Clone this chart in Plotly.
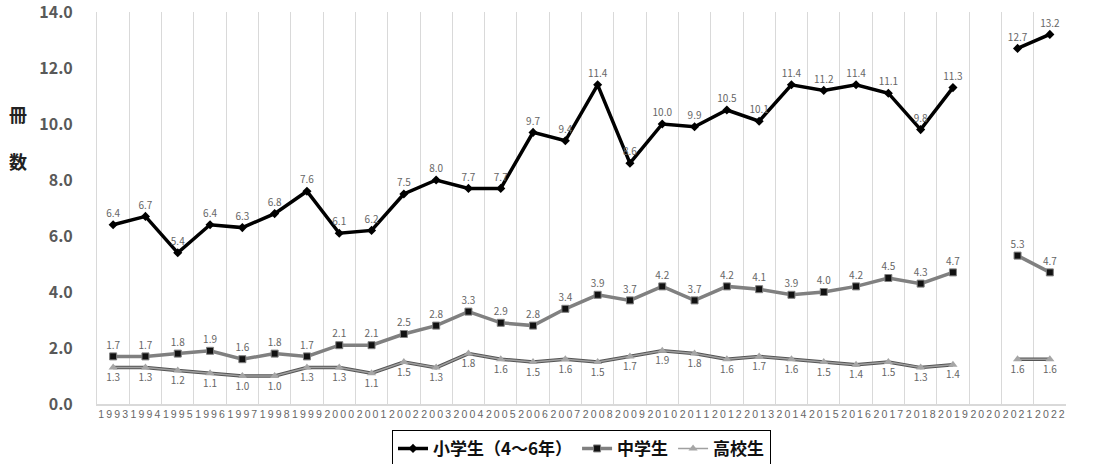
import plotly.graph_objects as go

years = [str(y) for y in range(1993, 2023)]
elem = [6.4, 6.7, 5.4, 6.4, 6.3, 6.8, 7.6, 6.1, 6.2, 7.5, 8.0, 7.7, 7.7, 9.7, 9.4,
        11.4, 8.6, 10.0, 9.9, 10.5, 10.1, 11.4, 11.2, 11.4, 11.1, 9.8, 11.3, None, 12.7, 13.2]
junior = [1.7, 1.7, 1.8, 1.9, 1.6, 1.8, 1.7, 2.1, 2.1, 2.5, 2.8, 3.3, 2.9, 2.8, 3.4,
          3.9, 3.7, 4.2, 3.7, 4.2, 4.1, 3.9, 4.0, 4.2, 4.5, 4.3, 4.7, None, 5.3, 4.7]
high = [1.3, 1.3, 1.2, 1.1, 1.0, 1.0, 1.3, 1.3, 1.1, 1.5, 1.3, 1.8, 1.6, 1.5, 1.6,
        1.5, 1.7, 1.9, 1.8, 1.6, 1.7, 1.6, 1.5, 1.4, 1.5, 1.3, 1.4, None, 1.6, 1.6]
y_ticks = [0, 2, 4, 6, 8, 10, 12, 14]

x = list(range(len(years)))
tick_text = ["\u2009".join(list(y)) for y in years]

def lab(vals):
    return [("" if v is None else f"{v:.1f}") for v in vals]

FONT = "Noto Sans CJK JP"
LABC = "#666666"

fig = go.Figure()
fig.add_trace(go.Scatter(
    x=x, y=elem, name="小学生（4～6年）", mode="lines+markers+text",
    line=dict(color="#000000", width=3.5),
    marker=dict(symbol="diamond", size=7, color="#000000"),
    text=lab(elem), textposition="top center",
    textfont=dict(size=10, color=LABC, family=FONT),
    connectgaps=False))
fig.add_trace(go.Scatter(
    x=x, y=junior, name="中学生", mode="lines+markers+text",
    line=dict(color="#808080", width=3.5),
    marker=dict(symbol="square", size=7, color="#111111", line=dict(color="#808080", width=1)),
    text=lab(junior), textposition="top center",
    textfont=dict(size=10, color=LABC, family=FONT),
    connectgaps=False))
fig.add_trace(go.Scatter(
    x=x, y=high, name="高校生", mode="lines", showlegend=False,
    line=dict(color="#555555", width=3.5), hoverinfo="skip",
    connectgaps=False))
fig.add_trace(go.Scatter(
    x=x, y=high, name="高校生", mode="lines+markers+text",
    line=dict(color="#a0a0a0", width=1.5),
    marker=dict(symbol="triangle-up", size=8, color="#a6a6a6"),
    text=lab(high), textposition="bottom center",
    textfont=dict(size=10, color=LABC, family=FONT),
    connectgaps=False))

fig.update_layout(
    width=1093, height=464,
    margin=dict(l=97, r=27, t=12, b=60, autoexpand=False),
    paper_bgcolor="white", plot_bgcolor="white",
    font=dict(family=FONT, color=LABC),
    showlegend=True,
    legend=dict(orientation="h", x=0.5, xanchor="center", y=-0.066, yanchor="top",
                bordercolor="#000000", borderwidth=1,
                font=dict(size=17, color="#111111", family=FONT, weight="bold"),
                itemwidth=30, tracegroupgap=0),
    xaxis=dict(range=[-0.5, len(years) - 0.5], tickmode="array", tickvals=x, ticktext=tick_text,
               showgrid=False, zeroline=False,
               showline=True, linecolor="#d9d9d9", linewidth=1.5,
               ticks="", tickfont=dict(size=10.5, color=LABC, family="Liberation Sans"),
               minor=dict(tickmode="linear", tick0=0.5, dtick=1, showgrid=True,
                          gridcolor="#d9d9d9", gridwidth=1, ticks="")),
    yaxis=dict(range=[0, 14], tickvals=y_ticks, ticktext=[f"{v:.1f}" for v in y_ticks],
               showgrid=False, zeroline=False,
               showline=True, linecolor="#d9d9d9", linewidth=1,
               ticks="", ticklabelstandoff=20, ticklabeloverflow="allow",
               tickfont=dict(size=16, color="#595959", family=FONT, weight="bold")),
)
fig.add_annotation(xref="paper", yref="paper", x=-0.0815, y=0.68, xanchor="center", yanchor="middle",
                   text="冊<br><br>数", showarrow=False,
                   font=dict(size=18, color="#222222", family=FONT, weight="bold"))

fig.write_html("out.html", config={"displayModeBar": False},
               post_script="document.body.style.margin='0';document.body.style.overflow='hidden';")
